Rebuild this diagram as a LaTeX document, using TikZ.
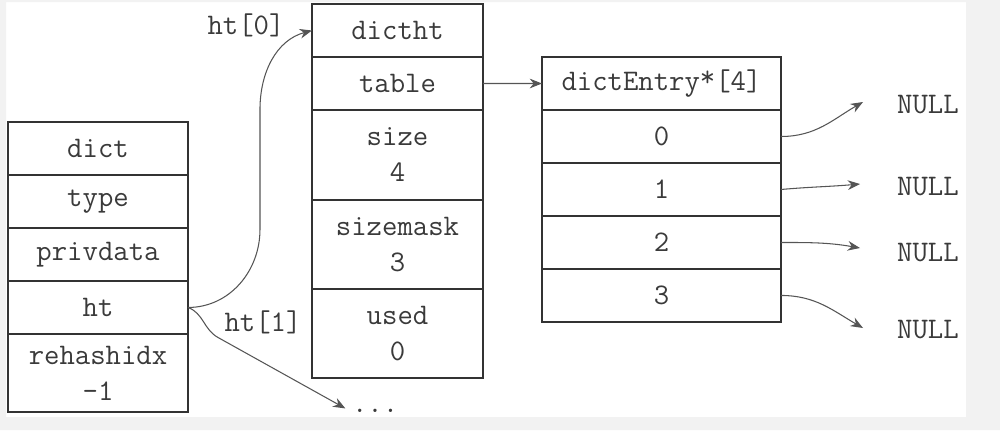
\documentclass[tikz,border=0pt]{standalone}
\usepackage{fontspec}
\usepackage{tikz}
\usetikzlibrary{positioning}
\usetikzlibrary{arrows.meta}
\tikzset{>=latex}

\definecolor{boxline}{HTML}{333333}
\definecolor{txtgray}{HTML}{3A3A3A}
\definecolor{arrgray}{HTML}{555555}
\definecolor{bggray}{HTML}{F2F2F2}

\tikzset{
  cell/.style={draw=boxline, line width=1.6pt, outer sep=0pt, inner sep=0pt,
    text=txtgray, align=center, font=\ttfamily\fontsize{17}{20.5}\selectfont},
  dictcell/.style={cell, minimum width=3.6cm, minimum height=1.06cm},
  htcell/.style={cell, minimum width=3.42cm, minimum height=1.06cm},
  entrycell/.style={cell, minimum width=4.78cm, minimum height=1.06cm},
  lbl/.style={text=txtgray, inner sep=1pt, font=\ttfamily\fontsize{17}{20.5}\selectfont},
  ptr/.style={draw=arrgray, line width=0.6pt, -{Stealth[length=7pt,width=5.5pt]}}
}

\begin{document}
\begin{tikzpicture}[x=0.02cm, y=0.02cm]
  \useasboundingbox (0,0) rectangle (1000,-430);

  % --- 1. dict ---
  \node[dictcell] (dict) at (98,-148.5) {dict};
  \node[dictcell, below=0pt of dict] (type) {type};
  \node[dictcell, below=0pt of type] (privdata) {privdata};
  \node[dictcell, below=0pt of privdata] (ht) {ht};
  \node[dictcell, minimum height=1.56cm, below=0pt of ht] (rehashidx) {rehashidx\\-1};

  % --- 2. dictht ---
  \node[htcell] (dictht) at (397.5,-30.5) {dictht};
  \node[htcell, below=0pt of dictht] (table) {table};
  \node[htcell, minimum height=1.8cm, below=0pt of table] (size) {size\\4};
  \node[htcell, minimum height=1.78cm, below=0pt of size] (sizemask) {sizemask\\3};
  \node[htcell, minimum height=1.78cm, below=0pt of sizemask] (used) {used\\0};

  % --- 3. dictEntry array ---
  \node[entrycell] (entry) at (661.5,-83.5) {dictEntry\raisebox{0.3ex}{*}[4]};
  \node[entrycell, below=0pt of entry] (e0) {0};
  \node[entrycell, below=0pt of e0] (e1) {1};
  \node[entrycell, below=0pt of e1] (e2) {2};
  \node[entrycell, below=0pt of e2] (e3) {3};

  % --- 4. Labels ---
  \node[lbl] (ht0lbl) at (246,-25) {ht[0]};
  \node[lbl] (ht1lbl) at (263,-322) {ht[1]};
  \node[lbl, anchor=west] (dots) at (350,-411) {...};
  \node[lbl, anchor=west] (null0) at (895,-105) {NULL};
  \node[lbl, anchor=west] (null1) at (895,-187) {NULL};
  \node[lbl, anchor=west] (null2) at (895,-253) {NULL};
  \node[lbl, anchor=west] (null3) at (895,-330) {NULL};

  % arrow tips in front of the NULLs
  \coordinate (t0) at ([shift={(-32,3)}]null0.west);
  \coordinate (t1) at ([shift={(-35,3)}]null1.west);
  \coordinate (t2) at ([shift={(-35,5)}]null2.west);
  \coordinate (t3) at ([shift={(-32,2)}]null3.west);

  % --- 5. Pointers ---
  \draw[ptr] (ht.east) to[out=0,in=-90] ++(72,78) -- ++(0,120)
    to[out=90,in=195] (dictht.west);
  \draw[ptr, shorten >=3pt] (ht.east) to[out=-20,in=151] ++(30,-30) -- (dots.west);
  \draw[ptr] (table.east) -- (entry.west);
  \draw[ptr] (e0.east) to[out=0,in=210] (t0);
  \draw[ptr] (e1.east) to[out=5,in=185] (t1);
  \draw[ptr] (e2.east) to[out=0,in=170] (t2);
  \draw[ptr] (e3.east) to[out=0,in=150] (t3);

  % --- 6. Frame ---
  \fill[bggray, even odd rule] (0,0) rectangle (1000,-430) (6,-2) rectangle (966,-417);
\end{tikzpicture}
\end{document}
